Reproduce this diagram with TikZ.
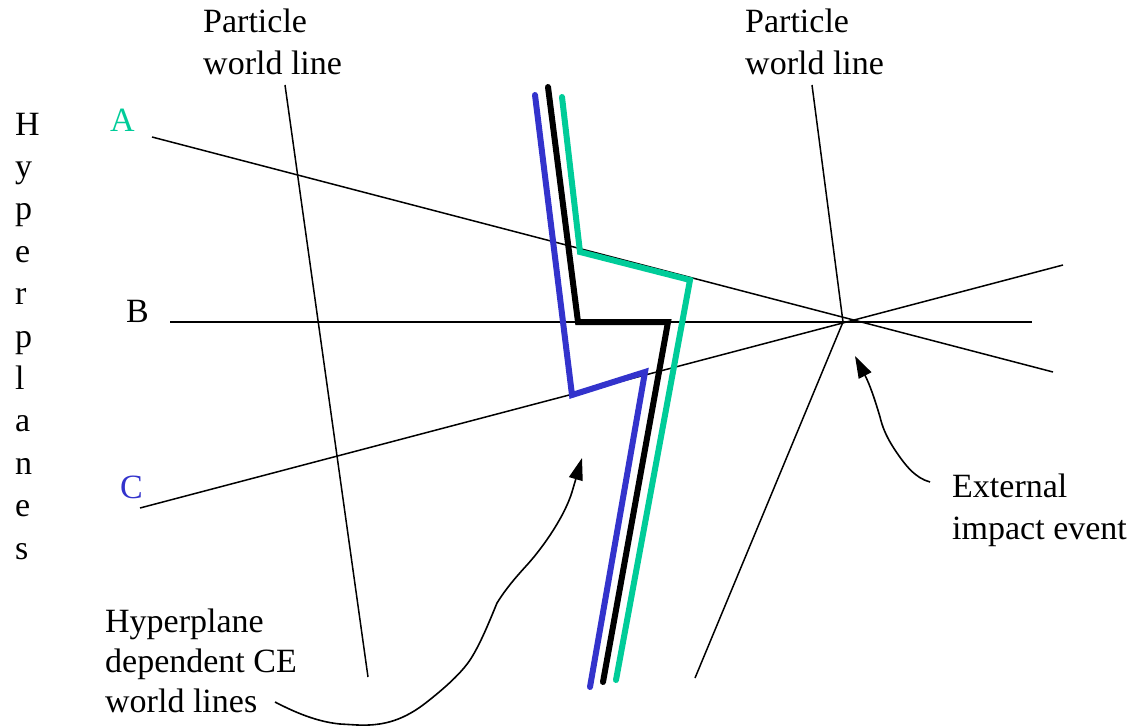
\documentclass[tikz,border=0pt]{standalone}
\usepackage{fontspec}
\setmainfont{Liberation Serif}
\usetikzlibrary{arrows.meta}
\definecolor{cegreen}{RGB}{0,204,153}
\definecolor{ceblue}{RGB}{51,51,204}
\begin{document}
\begin{tikzpicture}[x=1pt,y=-1pt,
  lbl/.style={font=\fontsize{34}{42}\selectfont, inner sep=0pt, align=left, anchor=base west},
  thin/.style={line width=1.5pt, black},
  ce/.style={line width=6pt, line cap=round, line join=miter},
  curvy/.style={line width=1.6pt, -{Triangle[length=22pt,width=14pt]}}]
\useasboundingbox (0,0) rectangle (1140,727);
% labels (anchor is the baseline of the last line)
\node[lbl] (pwl1) at (203,75) {Particle\\world line};
\node[lbl] (pwl2) at (745,75) {Particle\\world line};
\node[lbl, font=\fontsize{34}{42.4}\selectfont] (hyp) at (15,559) {H\\y\\p\\e\\r\\p\\l\\a\\n\\e\\s};
\node[lbl, text=cegreen] (lA) at (110,132) {A};
\node[lbl] (lB) at (126,322) {B};
\node[lbl, text=ceblue] (lC) at (120,498) {C};
\node[lbl] (ext) at (952,539) {External\\impact event};
\node[lbl, font=\fontsize{34}{40}\selectfont] (hdce) at (105,712) {Hyperplane\\dependent CE\\world lines};
% coordinates
\coordinate (E) at (843,322);
\coordinate (p1t) at (285,85);
\coordinate (p1b) at (368,677);
\coordinate (p2t) at (812,85);
\coordinate (p2b) at (695,678);
\coordinate (Aa) at (152,137);
\coordinate (Ab) at (1053,372);
\coordinate (Ba) at (170,322);
\coordinate (Bb) at (1032,322);
\coordinate (Ca) at (140,508);
\coordinate (Cb) at (1063,265);
% thin lines
\draw[thin] (p1t) -- (p1b);
\draw[thin] (p2t) -- (E) -- (p2b);
\draw[thin] (Aa) -- (Ab);
\draw[thin] (Ba) -- (Bb);
\draw[thin] (Ca) -- (Cb);
% CE world lines
\draw[ce, ceblue] (535,95) -- (572,395) -- (645,372) -- (590,687);
\draw[ce, black] (548,87) -- (578,322) -- (668,322) -- (603,682);
\draw[ce, cegreen] (562,97) -- (580,252) -- (690,280) -- (616,680);
% arrows
\coordinate (t1) at (275,702);
\coordinate (h1) at (582,458);
\draw[curvy] (t1) .. controls (300,715) and (320,722) .. (340,724)
  -- (357,725) .. controls (380,726) and (400,722) .. (423,705)
  .. controls (440,692) and (460,675) .. (470,660)
  .. controls (480,645) and (490,620) .. (497,603)
  .. controls (505,590) and (515,578) .. (527,565)
  .. controls (545,545) and (565,515) .. (572,492) -- (h1);
\coordinate (t2) at (930,482);
\coordinate (h2) at (855,356);
\draw[curvy] (t2) .. controls (915,478) and (905,465) .. (895,450)
  .. controls (885,435) and (882,425) .. (880,417)
  .. controls (875,400) and (870,385) .. (h2);
\end{tikzpicture}
\end{document}
